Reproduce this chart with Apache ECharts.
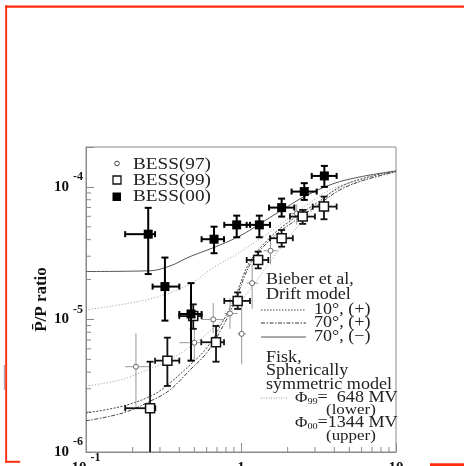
<!DOCTYPE html>
<html><head><meta charset="utf-8">
<script src="https://cdn.jsdelivr.net/npm/echarts@6.0.0/dist/echarts.min.js"></script>
<style>html,body{margin:0;padding:0;background:#fff}#c{width:464px;height:466px}</style>
</head><body><div id="c"></div>
<script>
// ---- tick labels ----
const xTickValues = [0.1, 1, 10];
const xTickBase = ['10', '1', '10'];
const xTickExp = ['-1', '', ''];
const yTickValues = [1e-6, 1e-5, 1e-4];
const yTickBase = ['10', '10', '10'];
const yTickExp = ['-6', '-5', '-4'];
const xMinorTicks = [0.2,0.3,0.4,0.5,0.6,0.7,0.8,0.9,2,3,4,5,6,7,8,9];
const yMinorTicks = [2e-6,3e-6,4e-6,5e-6,6e-6,7e-6,8e-6,9e-6,2e-5,3e-5,4e-5,5e-5,6e-5,7e-5,8e-5,9e-5];

// ---- BESS(00) filled squares ----
const b00x   = [0.252, 0.323, 0.476, 0.670, 0.938, 1.313, 1.829, 2.56, 3.45];
const b00y   = [4.40e-5, 1.77e-5, 1.10e-5, 4.03e-5, 5.17e-5, 5.17e-5, 6.98e-5, 9.22e-5, 1.21e-4];
const b00xlo = [0.179, 0.269, 0.400, 0.557, 0.780, 1.088, 1.517, 2.12, 2.86];
const b00xhi = [0.279, 0.400, 0.557, 0.777, 1.143, 1.538, 2.208, 3.08, 4.14];
const b00ylo = [2.20e-5, 9.8e-6, 4.89e-6, 3.16e-5, 4.17e-5, 4.17e-5, 5.97e-5, 7.98e-5, 1.0e-4];
const b00yhi = [6.95e-5, 2.93e-5, 1.88e-5, 5.01e-5, 6.07e-5, 6.07e-5, 8.16e-5, 1.067e-4, 1.44e-4];

// ---- BESS(99) open squares ----
const b99x   = [0.259, 0.335, 0.492, 0.690, 0.952, 1.29, 1.829, 2.50, 3.43];
const b99y   = [2.14e-6, 4.89e-6, 1.06e-5, 6.73e-6, 1.38e-5, 2.81e-5, 4.10e-5, 5.97e-5, 7.1e-5];
const b99xlo = [0.179, 0.279, 0.400, 0.554, 0.780, 1.088, 1.538, 2.07, 2.90];
const b99xhi = [0.280, 0.400, 0.557, 0.777, 1.143, 1.50, 2.16, 3.00, 4.14];
const b99ylo = [1.0e-6, 3.15e-6, 8.5e-6, 4.8e-6, 1.2e-5, 2.43e-5, 3.54e-5, 5.26e-5, 5.7e-5];
const b99yhi = [4.8e-6, 7.29e-6, 1.3e-5, 8.93e-6, 1.6e-5, 3.25e-5, 4.73e-5, 6.7e-5, 8.45e-5];

// ---- BESS(97) small circles ----
const b97x   = [0.210, 0.500, 0.662, 0.849, 1.01, 1.18, 1.55, 2.29];
const b97y   = [4.40e-6, 6.68e-6, 1.0e-5, 1.11e-5, 7.78e-6, 1.88e-5, 3.3e-5, 6.3e-5];
const b97xlo = [0.179, 0.400, 0.557, 0.780, 0.950, 1.09, 1.40, 2.07];
const b97xhi = [0.259, 0.560, 0.777, 0.950, 1.08, 1.29, 1.72, 2.55];
const b97ylo = [2.2e-6, 5.0e-6, 7.87e-6, 8.5e-6, 4.6e-6, 1.2e-5, 2.6e-5, 5.2e-5];
const b97yhi = [7.87e-6, 8.5e-6, 1.33e-5, 1.45e-5, 1.45e-5, 2.6e-5, 4.0e-5, 7.4e-5];

// ---- model curves ----
const solidX  = [0.1, 0.259, 0.348, 0.469, 0.66, 0.985, 1.32, 1.84, 2.54, 3.92, 5.86, 10];
const solidY  = [2.30e-5, 2.33e-5, 2.53e-5, 2.98e-5, 3.47e-5, 4.27e-5, 5.26e-5, 6.70e-5, 8.41e-5, 1.055e-4, 1.19e-4, 1.32e-4];
const fiskUpX = [0.1, 0.192, 0.300, 0.469, 0.66, 0.985, 1.54, 2.39, 4.0, 10];
const fiskUpY = [1.18e-5, 1.33e-5, 1.50e-5, 1.85e-5, 2.45e-5, 3.23e-5, 4.57e-5, 6.7e-5, 9.8e-5, 1.32e-4];
const fiskLoX = [0.1, 0.166, 0.248, 0.334, 0.469, 0.66, 0.85, 1.14, 1.54, 2.07, 2.79, 4.0, 10];
const fiskLoY = [3.15e-6, 3.49e-6, 4.16e-6, 4.86e-6, 6.2e-6, 8.6e-6, 1.12e-5, 1.67e-5, 2.72e-5, 4.27e-5, 6.37e-5, 9.33e-5, 1.30e-4];
const d10X    = [0.1, 0.173, 0.270, 0.348, 0.469, 0.60, 0.76, 0.91, 1.14, 1.58, 2.16, 3.09, 4.35, 6.3, 10];
const d10Y    = [1.97e-6, 2.22e-6, 2.69e-6, 3.32e-6, 4.54e-6, 6.09e-6, 9.58e-6, 1.45e-5, 2.72e-5, 4.27e-5, 5.73e-5, 7.57e-5, 1.0e-4, 1.17e-4, 1.32e-4];
const d70X    = [0.1, 0.173, 0.270, 0.348, 0.469, 0.60, 0.76, 0.91, 1.17, 1.62, 2.22, 3.14, 4.35, 6.3, 10];
const d70Y    = [1.72e-6, 1.97e-6, 2.47e-6, 2.94e-6, 4.16e-6, 5.59e-6, 8.78e-6, 1.36e-5, 2.72e-5, 4.2e-5, 5.54e-5, 7.31e-5, 9.49e-5, 1.13e-4, 1.30e-4];

const SERIF = "'Liberation Serif','DejaVu Serif',serif";
const AXC = '#8a8a8a';

function zip(xs, ys) { return xs.map((x, i) => [x, ys[i]]); }
function errData(x, y, xlo, xhi, ylo, yhi) { return x.map((v, i) => [v, y[i], xlo[i], xhi[i], ylo[i], yhi[i]]); }

function errRender(color, lw, capX, capY) {
  return function (params, api) {
    const x = api.value(0), y = api.value(1);
    const c = api.coord([x, y]);
    const pxlo = api.coord([api.value(2), y])[0], pxhi = api.coord([api.value(3), y])[0];
    const pylo = api.coord([x, api.value(4)])[1], pyhi = api.coord([x, api.value(5)])[1];
    const st = { stroke: color, lineWidth: lw };
    const ch = [
      { type: 'line', shape: { x1: pxlo, y1: c[1], x2: pxhi, y2: c[1] }, style: st },
      { type: 'line', shape: { x1: c[0], y1: pylo, x2: c[0], y2: pyhi }, style: st }
    ];
    if (capX > 0) {
      ch.push({ type: 'line', shape: { x1: pxlo, y1: c[1] - capX, x2: pxlo, y2: c[1] + capX }, style: st });
      ch.push({ type: 'line', shape: { x1: pxhi, y1: c[1] - capX, x2: pxhi, y2: c[1] + capX }, style: st });
    }
    if (capY > 0) {
      ch.push({ type: 'line', shape: { x1: c[0] - capY, y1: pyhi, x2: c[0] + capY, y2: pyhi }, style: st });
      if (api.value(4) > 1.0001e-6)
        ch.push({ type: 'line', shape: { x1: c[0] - capY, y1: pylo, x2: c[0] + capY, y2: pylo }, style: st });
    }
    return { type: 'group', children: ch };
  };
}

const minorData = xMinorTicks.map(v => [v, 1e-6, 0]).concat(yMinorTicks.map(v => [0.1, v, 1]));

const chart = echarts.init(document.getElementById('c'), null, { renderer: 'canvas' });

function txt(x, y, text, size, rich) {
  const style = { text: text, font: size + 'px ' + SERIF, fill: '#222', verticalAlign: 'middle', align: 'left' };
  if (rich) style.rich = rich;
  return { type: 'text', x: x, y: y, scaleX: 1.13, originX: 0, originY: 0, style: style };
}
function seg(x1, y1, x2, y2, color, dash, lw) {
  return { type: 'line', shape: { x1, y1, x2, y2 }, style: { stroke: color, lineWidth: lw || 1, lineDash: dash || null } };
}
const phiRich = {
  p: { fontSize: 15, fontFamily: SERIF, fill: '#222' },
  sub: { fontSize: 9, fontFamily: SERIF, fill: '#222', verticalAlign: 'bottom' },
  t: { fontSize: 16, fontFamily: SERIF, fill: '#222' }
};

const RED = '#ff2d0d';
const graphics = [
  { type: 'rect', shape: { x: 5, y: 5.5, width: 460, height: 2.2 }, style: { fill: RED } },
  { type: 'rect', shape: { x: 5.2, y: 5.5, width: 1.9, height: 457 }, style: { fill: RED } },
  { type: 'rect', shape: { x: 5.2, y: 460.8, width: 15, height: 2 }, style: { fill: RED } },
  { type: 'rect', shape: { x: 430, y: 463.2, width: 34, height: 3 }, style: { fill: RED } },
  { type: 'rect', shape: { x: 3.8, y: 365, width: 1.2, height: 25 }, style: { fill: '#aaa' } },
  // legend (upper left)
  { type: 'circle', shape: { cx: 117, cy: 163.5, r: 2.3 }, style: { fill: '#fff', stroke: '#444', lineWidth: 1 } },
  { type: 'rect', shape: { x: 113, y: 176, width: 8, height: 8 }, style: { fill: '#fff', stroke: '#111', lineWidth: 1.3 } },
  { type: 'rect', shape: { x: 112.5, y: 192.5, width: 8.5, height: 8.5 }, style: { fill: '#000' } },
  txt(133, 164.5, 'BESS(97)', 17),
  txt(133, 180.5, 'BESS(99)', 17),
  txt(133, 197, 'BESS(00)', 17),
  // model annotation
  txt(266, 280, 'Bieber et al,', 16),
  txt(266, 294.5, 'Drift model', 16),
  seg(261, 310, 306, 310, '#444', [1.5, 1.5]),
  seg(261, 323, 306, 323, '#333', [4, 1.5, 1.5, 1.5]),
  seg(261, 337, 306, 337, '#555'),
  txt(314, 309.5, '10°, (+)', 16),
  txt(314, 323, '70°, (+)', 16),
  txt(314, 336.5, '70°, (−)', 16),
  txt(266, 357.5, 'Fisk,', 16),
  txt(266, 371, 'Spherically', 16),
  txt(266, 384.5, 'symmetric model', 16),
  seg(261, 398, 288, 398, '#999', [1, 1.5]),
  txt(295, 398, '{p|Φ}{sub|99}{t|=  648 MV}', 16, phiRich),
  txt(326, 410.5, '(lower)', 15),
  txt(295, 423, '{p|Φ}{sub|00}{t|=1344 MV}', 16, phiRich),
  txt(326, 436.5, '(upper)', 15)
];

function curve(name, xs, ys, color, type, width) {
  return { name, type: 'line', data: zip(xs, ys), smooth: 0.35, symbol: 'none', z: 2,
    lineStyle: { color, width: width || 1, type }, silent: true, animation: false, clip: true };
}

const labelRich = {
  b: { fontFamily: SERIF, fontWeight: 'bold', fontSize: 15, color: '#111', lineHeight: 32, verticalAlign: 'middle' },
  s: { fontFamily: SERIF, fontWeight: 'bold', fontSize: 12, color: '#111', lineHeight: 12, verticalAlign: 'top', padding: [0, 0, 0, 4] }
};
function tickFmt(values, base, exp) {
  return function (v) {
    for (let i = 0; i < values.length; i++) {
      if (Math.abs(v - values[i]) / values[i] < 1e-6) {
        return '{b|' + base[i] + '}' + (exp[i] ? '{s|' + exp[i] + '}' : '');
      }
    }
    return '';
  };
}

chart.setOption({
  animation: false,
  backgroundColor: '#fff',
  grid: { left: 86, top: 147, width: 310, height: 305, show: true, borderColor: AXC, borderWidth: 1, backgroundColor: 'transparent', containLabel: false, outerBoundsMode: 'none' },
  xAxis: {
    type: 'log', logBase: 10, min: 0.1, max: 10,
    axisLine: { show: true, lineStyle: { color: AXC, width: 1 } },
    axisTick: { show: true, inside: true, length: 9, lineStyle: { color: AXC } },
    minorTick: { show: false }, splitLine: { show: false },
    axisLabel: { show: true, margin: 0, showMinLabel: true, showMaxLabel: true, hideOverlap: false, formatter: tickFmt(xTickValues, xTickBase, xTickExp), rich: labelRich }
  },
  yAxis: {
    type: 'log', logBase: 10, min: 1e-6, max: 2e-4,
    name: 'P\u0304/P ratio', nameLocation: 'middle', nameRotate: 90, nameGap: 36, nameMoveOverlap: false,
    nameTextStyle: { fontFamily: SERIF, fontWeight: 'bold', fontSize: 17, color: '#111' },
    axisLine: { show: true, lineStyle: { color: AXC, width: 1 } },
    axisTick: { show: true, inside: true, length: 8, lineStyle: { color: AXC } },
    minorTick: { show: false }, splitLine: { show: false },
    axisLabel: { show: true, margin: 3, showMinLabel: true, showMaxLabel: true, hideOverlap: false, formatter: tickFmt(yTickValues, yTickBase, yTickExp), rich: labelRich }
  },
  graphic: graphics,
  series: [
    { type: 'custom', name: 'minor', data: minorData, z: 1, silent: true, clip: false,
      renderItem: function (params, api) {
        const p = api.coord([api.value(0), api.value(1)]);
        const st = { stroke: AXC, lineWidth: 1 };
        if (api.value(2) === 0) return { type: 'line', shape: { x1: p[0], y1: p[1], x2: p[0], y2: p[1] - 5 }, style: st };
        return { type: 'line', shape: { x1: p[0], y1: p[1], x2: p[0] + 5, y2: p[1] }, style: st };
      } },
    curve('Fisk 1344', fiskUpX, fiskUpY, '#9a9a9a', [1, 2], 1),
    curve('Fisk 648', fiskLoX, fiskLoY, '#9a9a9a', [1, 2], 1),
    curve('10 (+)', d10X, d10Y, '#444', [2, 1.5], 1),
    curve('70 (+)', d70X, d70Y, '#444', [4, 1.5, 1.5, 1.5], 1),
    curve('70 (-)', solidX, solidY, '#555', 'solid', 1),
    { type: 'custom', name: 'err97', data: errData(b97x, b97y, b97xlo, b97xhi, b97ylo, b97yhi), z: 3, clip: true, silent: true,
      renderItem: errRender('#9a9a9a', 1, 0, 0) },
    { type: 'scatter', name: 'BESS(97)', data: zip(b97x, b97y), z: 4, symbol: 'circle', symbolSize: 5, silent: true,
      itemStyle: { color: '#fff', borderColor: '#666', borderWidth: 1, opacity: 1 } },
    { type: 'custom', name: 'err99', data: errData(b99x, b99y, b99xlo, b99xhi, b99ylo, b99yhi), z: 5, clip: true, silent: true,
      renderItem: errRender('#111', 1.8, 3, 3.5) },
    { type: 'scatter', name: 'BESS(99)', data: zip(b99x, b99y), z: 6, symbol: 'rect', symbolSize: 9, silent: true,
      itemStyle: { color: '#fff', borderColor: '#111', borderWidth: 1.5, opacity: 1 } },
    { type: 'custom', name: 'err00', data: errData(b00x, b00y, b00xlo, b00xhi, b00ylo, b00yhi), z: 7, clip: true, silent: true,
      renderItem: errRender('#000', 2, 3, 3.5) },
    { type: 'scatter', name: 'BESS(00)', data: zip(b00x, b00y), z: 8, symbol: 'rect', symbolSize: 9, silent: true,
      itemStyle: { color: '#000', opacity: 1 } }
  ]
});
</script></body></html>
